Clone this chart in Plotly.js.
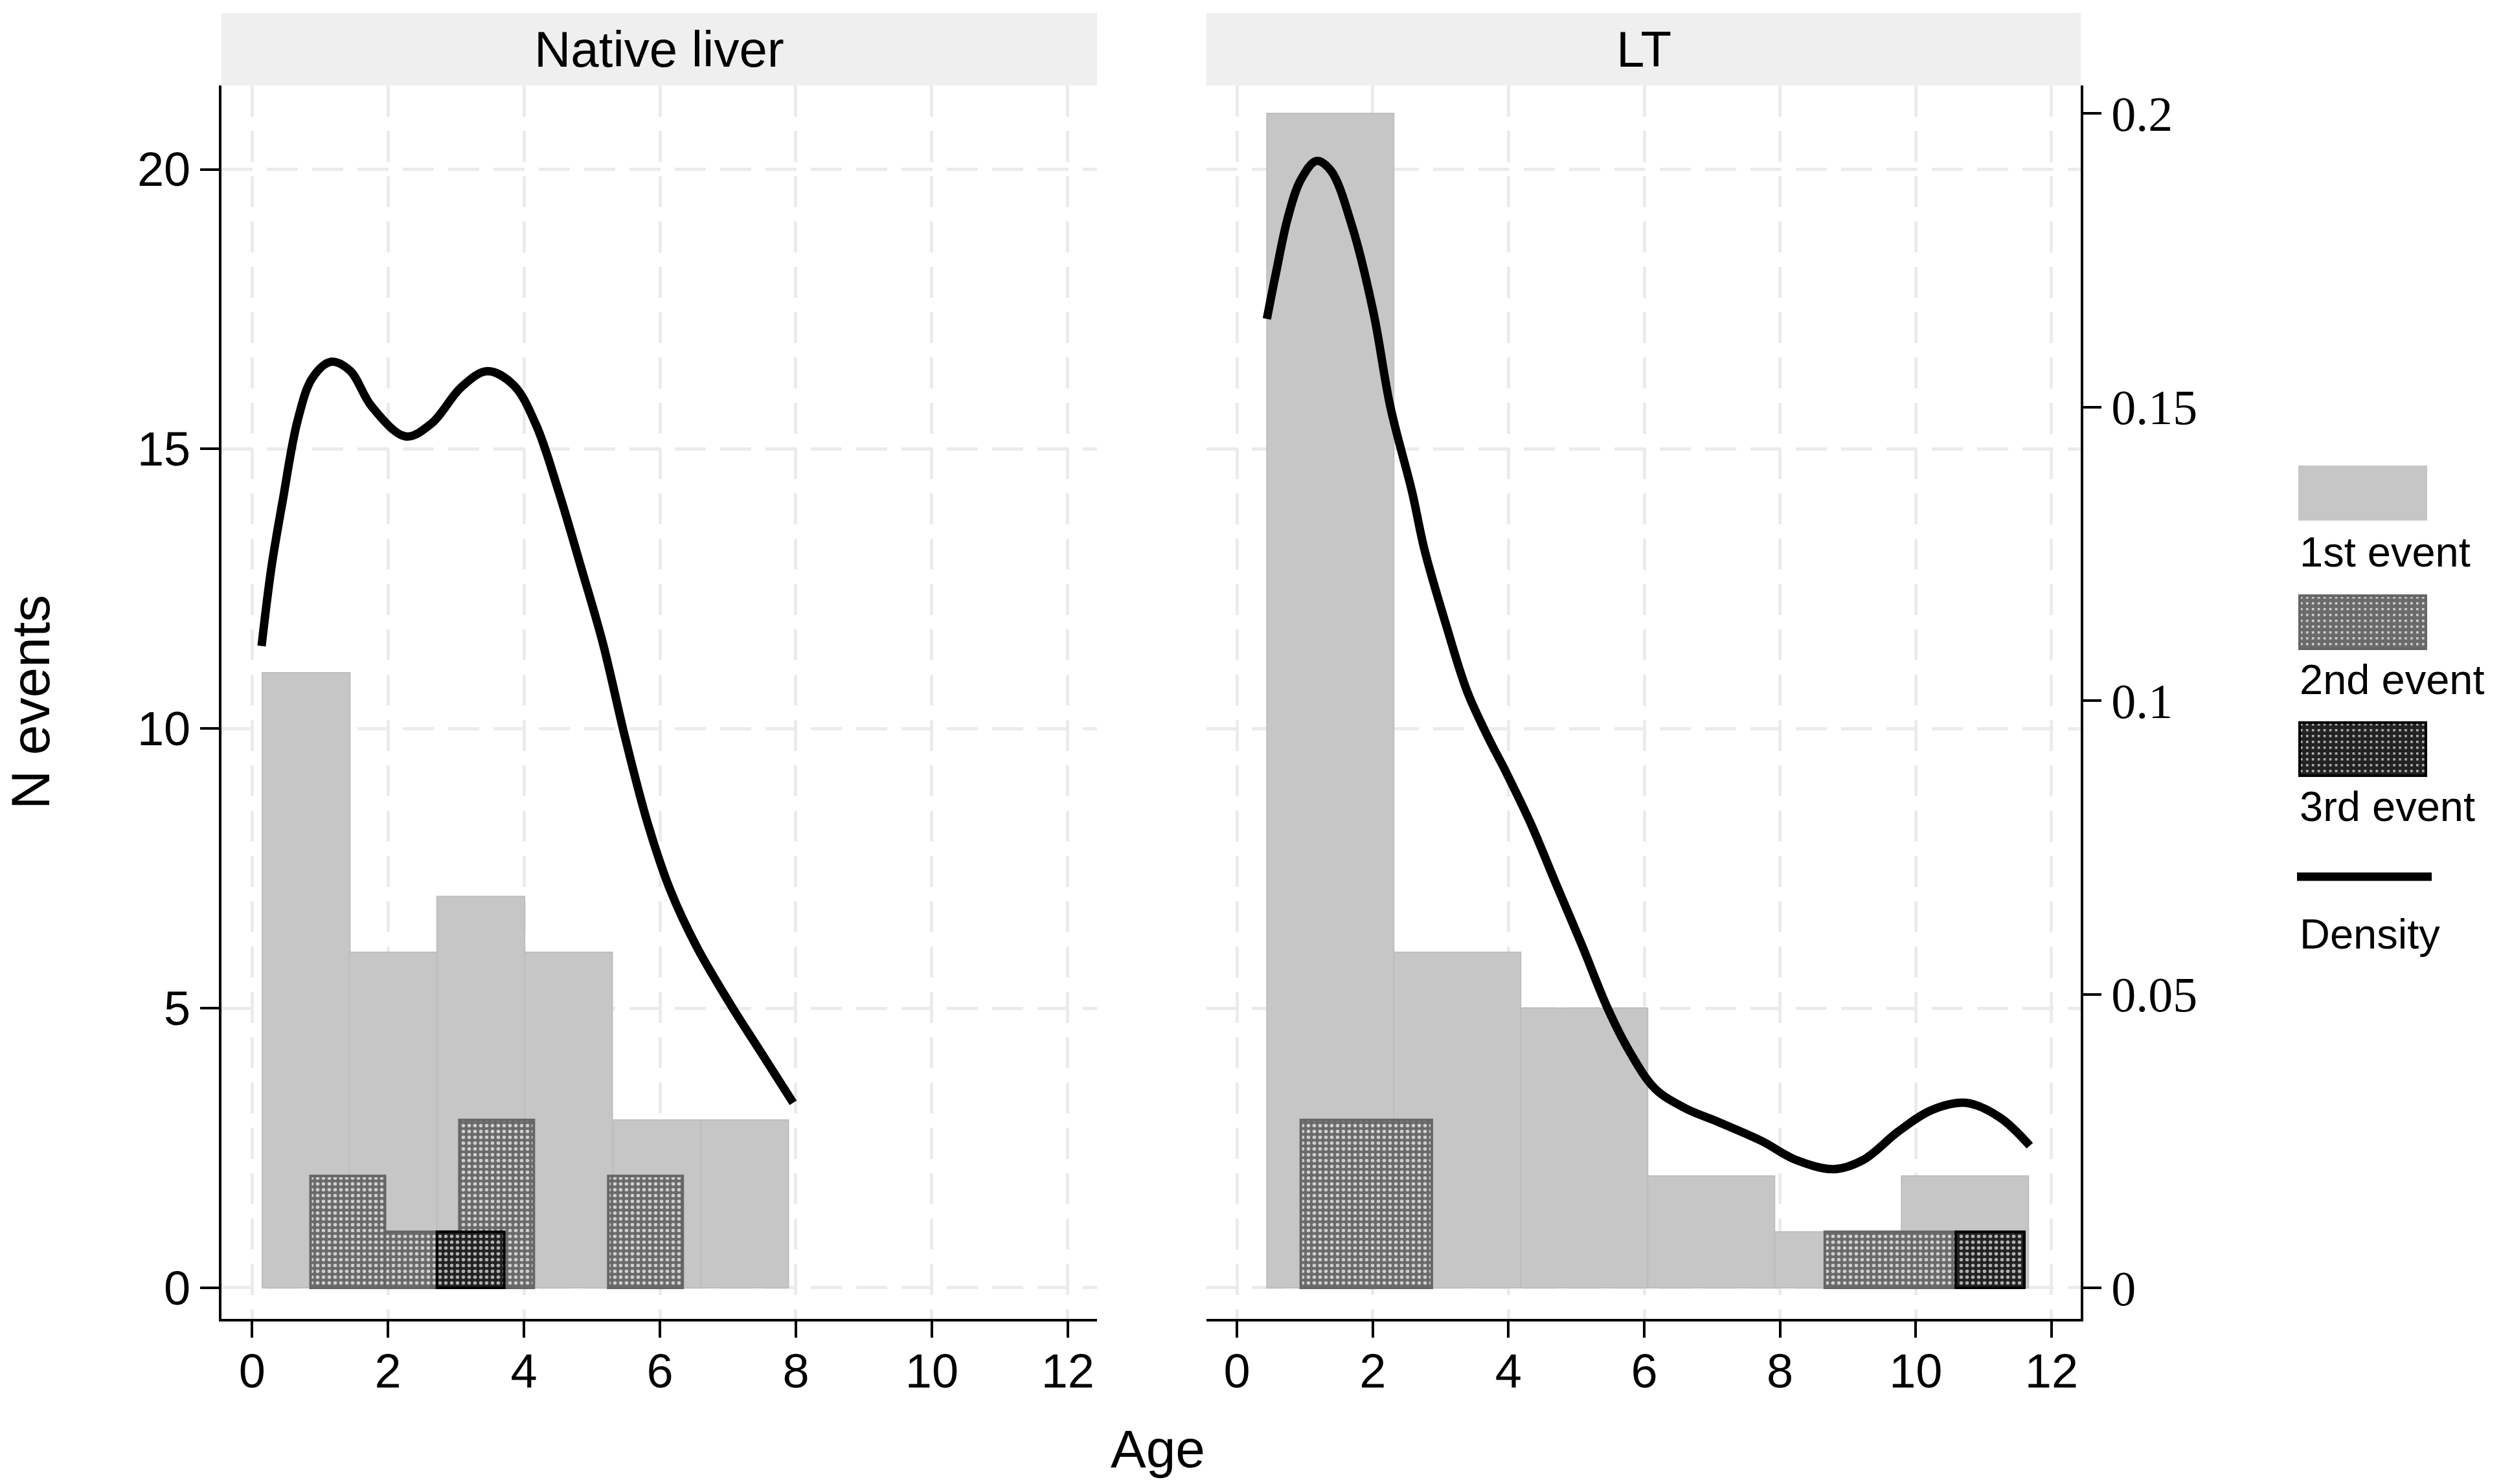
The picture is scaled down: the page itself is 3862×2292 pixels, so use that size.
<!DOCTYPE html>
<html>
<head>
<meta charset="utf-8">
<script src="https://cdn.plot.ly/plotly-3.0.1.min.js"></script>
<style>html,body{margin:0;padding:0;background:#fff;}#chart{width:3862px;height:2292px;}</style>
</head>
<body>
<div id="chart"></div>
<script>
// ---------- DATA ----------
const panels = ["Native liver", "LT"];
const seriesNames = ["1st event", "2nd event", "3rd event", "Density"];

// Native liver: histogram bins (left edge of each bin, age in years) and counts
const nlFirstLeft  = [0.15, 1.43, 2.72, 4.01, 5.31, 6.60];
const nlFirstWidth = 1.29;
const nlFirstCount = [11, 6, 7, 6, 3, 3];
const nlSecondLeft  = [0.86, 1.955, 3.05, 5.24];
const nlSecondWidth = 1.095;
const nlSecondCount = [2, 1, 3, 2];
const nlThirdLeft  = [2.72];
const nlThirdWidth = 0.99;
const nlThirdCount = [1];
// Native liver density curve
const nlDensAge = [0.14,0.285,0.45,0.67,0.89,1.16,1.44,1.76,2.26,2.64,3.08,3.46,3.85,4.18,4.51,4.84,5.16,5.49,5.82,6.15,6.54,7.03,7.47,7.96];
const nlDens    = [0.1093,0.1227,0.134,0.1477,0.155,0.1577,0.1562,0.1501,0.145,0.1472,0.1534,0.1561,0.1537,0.1469,0.1356,0.1227,0.1098,0.0936,0.0791,0.0678,0.0581,0.0484,0.0404,0.0315];

// LT
const ltFirstLeft  = [0.44, 2.31, 4.18, 6.05, 7.92, 9.79];
const ltFirstWidth = 1.87;
const ltFirstCount = [21, 6, 5, 2, 1, 2];
const ltSecondLeft  = [0.94, 8.66];
const ltSecondWidth = 1.93;
const ltSecondCount = [3, 1];
const ltThirdLeft  = [10.59];
const ltThirdWidth = 1.01;
const ltThirdCount = [1];
// LT density curve
const ltDensAge = [0.44,0.57,0.75,0.94,1.17,1.38,1.70,2.01,2.26,2.58,2.76,3.08,3.39,3.71,3.96,4.33,4.71,5.09,5.46,5.78,6.16,6.60,7.10,7.73,8.23,8.79,9.23,9.74,10.24,10.74,11.24,11.68];
const ltDens    = [0.165,0.1726,0.1823,0.1887,0.1919,0.1903,0.1806,0.1661,0.15,0.1355,0.1258,0.1129,0.1016,0.0935,0.0879,0.079,0.0685,0.0581,0.0476,0.0403,0.0339,0.0306,0.0282,0.025,0.0218,0.0202,0.0218,0.0266,0.0303,0.0315,0.029,0.0242];

// axis ticks
const xTicks = [0, 2, 4, 6, 8, 10, 12];
const yTicks = [0, 5, 10, 15, 20];
const densTicks = [0, 0.05, 0.1, 0.15, 0.2];
const densTickText = ["0", "0.05", "0.1", "0.15", "0.2"];

// ---------- LAYOUT GEOMETRY (pixels) ----------
const W = 3862, H = 2292;
const L = 342, R = 3213, T = 132, B = 2037;
const PW = R - L, PH = B - T;
const px = x => (x - L) / PW;
const py = y => 1 - (y - T) / PH;

const sans = "Liberation Sans, Arial, Helvetica, sans-serif";
const serif = "Liberation Serif, Times New Roman, serif";

const xRange = [-0.45, 12.43];
const yRange = [-0.556, 21.5];
const densPerCount = 0.2 / 21;
const dRange = [yRange[0] * densPerCount, yRange[1] * densPerCount];

const c1 = "#c6c6c6";
const c2bg = "#6a6a6a", c2fg = "#cfcfcf";
const c3bg = "#222222", c3fg = "#b0b0b0";

function firstTrace(left, w, cnt, xa, ya) {
  return {type: "bar", x: left, y: cnt, width: w, offset: 0, xaxis: xa, yaxis: ya,
    name: seriesNames[0], showlegend: false, hoverinfo: "skip",
    marker: {color: c1, line: {color: "#bdbdbd", width: 2}}};
}
function patTrace(left, w, cnt, xa, ya, name, bg, fg, lc) {
  return {type: "bar", x: left, y: cnt, width: w, offset: 0, xaxis: xa, yaxis: ya,
    name: name, showlegend: false, hoverinfo: "skip",
    marker: {color: bg, line: {color: lc, width: 4},
      pattern: {shape: ".", bgcolor: bg, fgcolor: fg, size: 9, solidity: 0.3, fillmode: "replace"}}};
}
function densTrace(ages, d, xa, ya) {
  return {type: "scatter", mode: "lines", x: ages, y: d, xaxis: xa, yaxis: ya,
    name: seriesNames[3], showlegend: false, hoverinfo: "skip",
    line: {color: "#000", width: 13, shape: "spline", smoothing: 1}};
}

const data = [
  firstTrace(nlFirstLeft, nlFirstWidth, nlFirstCount, "x", "y"),
  patTrace(nlSecondLeft, nlSecondWidth, nlSecondCount, "x", "y", seriesNames[1], c2bg, c2fg, "#666666"),
  patTrace(nlThirdLeft, nlThirdWidth, nlThirdCount, "x", "y", seriesNames[2], c3bg, c3fg, "#000"),
  densTrace(nlDensAge, nlDens, "x", "y3"),
  firstTrace(ltFirstLeft, ltFirstWidth, ltFirstCount, "x2", "y2"),
  patTrace(ltSecondLeft, ltSecondWidth, ltSecondCount, "x2", "y2", seriesNames[1], c2bg, c2fg, "#666666"),
  patTrace(ltThirdLeft, ltThirdWidth, ltThirdCount, "x2", "y2", seriesNames[2], c3bg, c3fg, "#000"),
  densTrace(ltDensAge, ltDens, "x2", "y4")
];

const grid = {showgrid: true, gridcolor: "#ebebeb", gridwidth: 5, griddash: "48px,22px", zeroline: false};
const tickStyle = {ticks: "outside", tickwidth: 4, tickcolor: "#000", showline: true, linewidth: 4, linecolor: "#000"};

const d1 = px(1694), d2 = px(1863);

function xAxis(domain, anchor) {
  return Object.assign({domain: domain, anchor: anchor, range: xRange, tickmode: "array", tickvals: xTicks,
    ticklen: 25, ticklabelstandoff: -12, tickfont: {family: sans, size: 74, color: "#000"}, fixedrange: true}, grid, tickStyle);
}

function svgSwatch(bg, fg, stroke) {
  const s = `<svg xmlns="http://www.w3.org/2000/svg" width="200" height="86" viewBox="0 0 200 86">` +
    `<defs><pattern id="p" width="9" height="9" patternUnits="userSpaceOnUse">` +
    `<rect width="9" height="9" fill="${bg}"/><rect x="3" y="3" width="3.6" height="3.6" fill="${fg}"/></pattern></defs>` +
    `<rect x="2" y="2" width="196" height="82" fill="url(#p)" stroke="${stroke}" stroke-width="4"/></svg>`;
  return "data:image/svg+xml;charset=utf-8," + encodeURIComponent(s);
}

const legendFont = {family: sans, size: 65, color: "#000"};

const layout = {
  width: W, height: H,
  margin: {l: L, r: W - R, t: T, b: H - B, pad: 0},
  paper_bgcolor: "#fff", plot_bgcolor: "rgba(0,0,0,0)",
  barmode: "overlay", showlegend: false,
  font: {family: sans, color: "#000"},
  xaxis: xAxis([0, d1], "y"),
  xaxis2: xAxis([d2, 1], "y2"),
  yaxis: Object.assign({domain: [0, 1], anchor: "x", range: yRange, tickmode: "array", tickvals: yTicks,
    ticklen: 29, tickfont: {family: sans, size: 74, color: "#000"}, fixedrange: true,
    title: {text: "N events", font: {family: sans, size: 84, color: "#000"}, standoff: 115}}, grid, tickStyle),
  yaxis2: Object.assign({domain: [0, 1], anchor: "x2", range: yRange, tickmode: "array", tickvals: yTicks,
    showticklabels: false, ticks: "", showline: false, fixedrange: true}, grid),
  yaxis3: {overlaying: "y", anchor: "x", range: dRange, visible: false, fixedrange: true},
  yaxis4: Object.assign({overlaying: "y2", anchor: "x2", side: "right", range: dRange, tickmode: "array",
    tickvals: densTicks, ticktext: densTickText, ticklen: 28, showgrid: false, zeroline: false,
    tickfont: {family: serif, size: 76, color: "#000"}, fixedrange: true}, tickStyle),
  shapes: [
    {type: "rect", xref: "paper", yref: "paper", x0: 0, x1: d1, y0: 1, y1: py(20), fillcolor: "#efefef", line: {width: 0}, layer: "below"},
    {type: "rect", xref: "paper", yref: "paper", x0: d2, x1: 1, y0: 1, y1: py(20), fillcolor: "#efefef", line: {width: 0}, layer: "below"},
    // legend swatches
    {type: "rect", xref: "paper", yref: "paper", x0: px(3549), x1: px(3748), y0: py(719), y1: py(804), fillcolor: c1, line: {width: 0}},
    {type: "line", xref: "paper", yref: "paper", x0: px(3547), x1: px(3755), y0: py(1354), y1: py(1354), line: {color: "#000", width: 13}}
  ],
  images: [
    {source: svgSwatch(c2bg, c2fg, "#666666"), xref: "paper", yref: "paper", x: px(3549), y: py(918),
      sizex: px(3748) - px(3549), sizey: py(918) - py(1004), xanchor: "left", yanchor: "top", sizing: "stretch", layer: "above"},
    {source: svgSwatch(c3bg, c3fg, "#000"), xref: "paper", yref: "paper", x: px(3549), y: py(1114),
      sizex: px(3748) - px(3549), sizey: py(1114) - py(1200), xanchor: "left", yanchor: "top", sizing: "stretch", layer: "above"}
  ],
  annotations: [
    {text: panels[0], xref: "paper", yref: "paper", x: d1 / 2, y: py(76), xanchor: "center", yanchor: "middle", showarrow: false,
      font: {family: sans, size: 78, color: "#000"}},
    {text: panels[1], xref: "paper", yref: "paper", x: (d2 + 1) / 2, y: py(76), xanchor: "center", yanchor: "middle", showarrow: false,
      font: {family: sans, size: 78, color: "#000"}},
    {text: "Age", xref: "paper", yref: "paper", x: px(1788), y: py(2237), xanchor: "center", yanchor: "middle", showarrow: false,
      font: {family: sans, size: 82, color: "#000"}},
    {text: seriesNames[0], xref: "paper", yref: "paper", x: px(3549), y: py(852), xanchor: "left", yanchor: "middle", showarrow: false, font: legendFont},
    {text: seriesNames[1], xref: "paper", yref: "paper", x: px(3549), y: py(1049), xanchor: "left", yanchor: "middle", showarrow: false, font: legendFont},
    {text: seriesNames[2], xref: "paper", yref: "paper", x: px(3549), y: py(1245), xanchor: "left", yanchor: "middle", showarrow: false, font: legendFont},
    {text: seriesNames[3], xref: "paper", yref: "paper", x: px(3549), y: py(1442), xanchor: "left", yanchor: "middle", showarrow: false, font: legendFont}
  ]
};

Plotly.newPlot("chart", data, layout, {staticPlot: true, displayModeBar: false});
</script>
</body>
</html>
